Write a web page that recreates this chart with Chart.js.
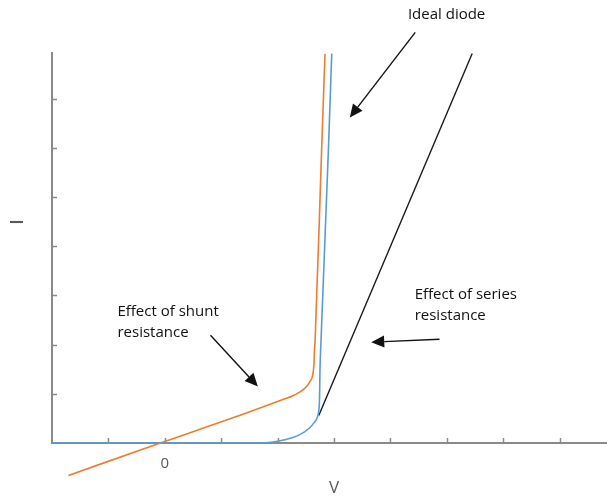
<!DOCTYPE html>
<html>
<head>
<meta charset="utf-8">
<script src="https://cdn.jsdelivr.net/npm/chart.js@4"></script>
<style>
  html, body { margin: 0; padding: 0; background: #fff; }
  #wrap { width: 607px; height: 499px; }
</style>
</head>
<body>
<div id="wrap"><canvas id="ivChart"></canvas></div>
<script>
// I-V curves: ideal diode, with shunt resistance, with series resistance
const idealV = [-2, 1.72, 2.00, 2.24, 2.41, 2.56, 2.65, 2.71, 2.73, 2.744, 2.75, 2.77, 2.90, 2.96];
const idealI = [0, 0, 0.035, 0.10, 0.18, 0.30, 0.42, 0.54, 0.66, 0.93, 1.42, 2.09, 5.95, 7.92];

const shuntV = [-1.71, -0.08, 1.52, 2.06, 2.29, 2.47, 2.57, 2.625, 2.645, 2.655, 2.665, 2.78, 2.84];
const shuntI = [-0.66, 0, 0.64, 0.87, 0.97, 1.10, 1.24, 1.40, 1.62, 1.92, 2.09, 5.95, 7.91];

const seriesV = [2.73, 5.45];
const seriesI = [0.56, 7.92];

const xTicks = [-1, 0, 1, 2, 3, 4, 5, 6, 7];
const yTicks = [1, 2, 3, 4, 5, 6, 7];

// callouts: text lines + arrow (from -> to), in V/I units
const notes = [
  { lines: ['Ideal diode'], x: 4.31, y: 8.71, from: [4.44, 8.35], to: [3.28, 6.62] },
  { lines: ['Effect of shunt', 'resistance'], x: -0.84, y: 2.66, from: [0.81, 2.19], to: [1.65, 1.15] },
  { lines: ['Effect of series', 'resistance'], x: 4.43, y: 3.02, from: [4.87, 2.11], to: [3.66, 2.05] }
];

const pts = (xs, ys) => xs.map((x, i) => ({ x, y: ys[i] }));

const AXIS_COLOR = '#8a8a8a';
const TEXT_FONT = '15px "Open Sans", sans-serif';

function arrow(ctx, x1, y1, x2, y2){
  const a = Math.atan2(y2 - y1, x2 - x1);
  const len = 13, half = 6;
  const bx = x2 - len * Math.cos(a), by = y2 - len * Math.sin(a);
  ctx.beginPath();
  ctx.moveTo(x1, y1);
  ctx.lineTo(bx, by);
  ctx.stroke();
  ctx.beginPath();
  ctx.moveTo(x2, y2);
  ctx.lineTo(bx + half * Math.sin(a), by - half * Math.cos(a));
  ctx.lineTo(bx - half * Math.sin(a), by + half * Math.cos(a));
  ctx.closePath();
  ctx.fill();
}

const decorations = {
  id: 'decorations',
  beforeDatasetsDraw(chart){
    const {ctx, scales:{x, y}} = chart;
    ctx.save();
    ctx.strokeStyle = AXIS_COLOR;
    ctx.lineWidth = 1.5;
    // tick marks pointing into the plot
    xTicks.forEach(v => {
      const px = Math.round(x.getPixelForValue(v)) + 0.5;
      ctx.beginPath();
      ctx.moveTo(px, y.bottom);
      ctx.lineTo(px, y.bottom - 5);
      ctx.stroke();
    });
    yTicks.forEach(v => {
      const py = Math.round(y.getPixelForValue(v)) + 0.5;
      ctx.beginPath();
      ctx.moveTo(x.left, py);
      ctx.lineTo(x.left + 5, py);
      ctx.stroke();
    });
    ctx.restore();
  },
  afterDraw(chart){
    const {ctx, scales:{x, y}} = chart;
    ctx.save();
    // axis titles
    ctx.fillStyle = '#595959';
    ctx.font = '17px "Open Sans", sans-serif';
    ctx.textAlign = 'center';
    ctx.textBaseline = 'middle';
    ctx.fillText('V', x.getPixelForValue(3), 488);
    ctx.save();
    ctx.translate(18, 222);
    ctx.rotate(-Math.PI / 2);
    ctx.font = '600 18px "Open Sans", sans-serif';
    ctx.fillText('I', 0, 0);
    ctx.restore();

    // callouts
    ctx.fillStyle = '#111';
    ctx.strokeStyle = '#111';
    ctx.lineWidth = 1.4;
    ctx.font = TEXT_FONT;
    ctx.textAlign = 'left';
    notes.forEach(n => {
      const tx = x.getPixelForValue(n.x), ty = y.getPixelForValue(n.y);
      n.lines.forEach((t, i) => ctx.fillText(t, tx, ty + i * 21));
      arrow(ctx, x.getPixelForValue(n.from[0]), y.getPixelForValue(n.from[1]),
                 x.getPixelForValue(n.to[0]), y.getPixelForValue(n.to[1]));
    });
    ctx.restore();
  }
};

new Chart(document.getElementById('ivChart'), {
  type: 'line',
  data: {
    datasets: [
      { data: pts(idealV, idealI), borderColor: '#5B9BD5', borderWidth: 1.6, cubicInterpolationMode: 'monotone' },
      { data: pts(shuntV, shuntI), borderColor: '#ED7D31', borderWidth: 1.6, cubicInterpolationMode: 'monotone', clip: false },
      { data: pts(seriesV, seriesI), borderColor: '#1a1a1a', borderWidth: 1.4 }
    ]
  },
  options: {
    responsive: true,
    maintainAspectRatio: false,
    animation: false,
    layout: { padding: { top: 53, right: 0, left: 0, bottom: 0 } },
    elements: { point: { radius: 0 } },
    plugins: { legend: { display: false }, tooltip: { enabled: false } },
    scales: {
      x: {
        type: 'linear',
        min: -2,
        max: 7.84,
        afterBuildTicks: s => { s.ticks = xTicks.map(v => ({ value: v })); },
        afterFit: s => { s.height = 56; },
        grid: { display: false },
        border: { color: AXIS_COLOR, width: 2 },
        ticks: {
          padding: 4,
          color: '#595959',
          font: { family: '"Open Sans", sans-serif', size: 15 },
          maxRotation: 0,
          autoSkip: false,
          callback: v => v === 0 ? '0' : ''
        }
      },
      y: {
        type: 'linear',
        min: 0,
        max: 7.93,
        afterBuildTicks: s => { s.ticks = yTicks.map(v => ({ value: v })); },
        afterFit: s => { s.width = 52; },
        grid: { display: false },
        border: { color: AXIS_COLOR, width: 2 },
        ticks: { display: false }
      }
    }
  },
  plugins: [decorations]
});
</script>
</body>
</html>
